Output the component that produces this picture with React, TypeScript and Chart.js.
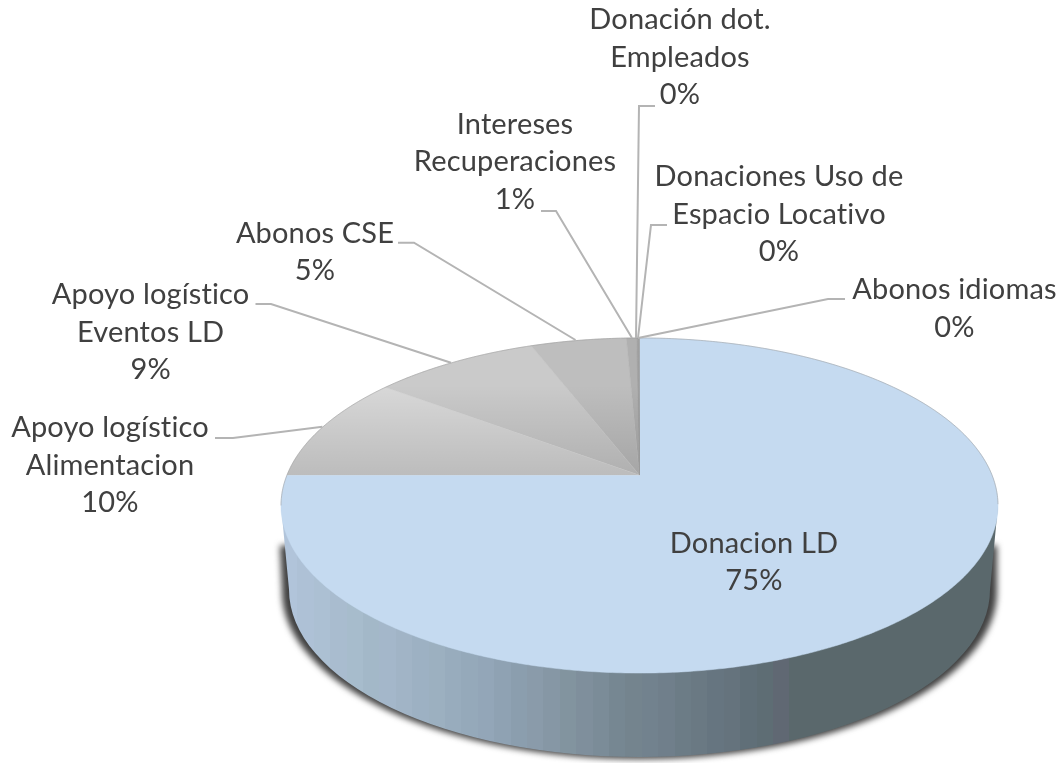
import React, { useEffect, useRef } from "react";
import Chart from "chart.js/auto";

// ---------- data ----------
const categories = [
  "Donacion LD",
  "Apoyo logístico Alimentacion",
  "Apoyo logístico Eventos LD",
  "Abonos CSE",
  "Intereses Recuperaciones",
  "Donación dot. Empleados",
  "Donaciones Uso de Espacio Locativo",
  "Abonos idiomas",
];
const shares = [75, 10.25, 8.9, 5.15, 0.55, 0.05, 0.05, 0.05];
const sliceColours = ["#c5daf0", "#d8d8d8", "#cacaca", "#bebebe", "#b0b0b0", "#a0a0a0", "#9c9c9c", "#989898"];
const labelLines = [
  ["Donacion LD"],
  ["Apoyo logístico", "Alimentacion"],
  ["Apoyo logístico", "Eventos LD"],
  ["Abonos CSE"],
  ["Intereses", "Recuperaciones"],
  ["Donación dot.", "Empleados"],
  ["Donaciones Uso de", "Espacio Locativo"],
  ["Abonos idiomas"],
];
const wallBands = [
  "#b1c4da", "#aec1d6", "#acc0d3", "#a9bccf", "#a7bccc", "#a3b8c8", "#a4b7ca", "#a1b4c6",
  "#9db1c3", "#9cb0c0", "#98acbd", "#95a9ba", "#93a6b8", "#8fa2b3", "#8b9eae", "#8a9baa",
  "#8697a5", "#82949f", "#7f8f9c", "#7b8c98", "#768792", "#74848e", "#72828e", "#707f8b",
  "#6c7c86", "#6a7983", "#667580", "#65737d", "#606f78", "#5e6d74", "#606873", "#5a686c",
];

// ---------- layout ----------
const W = 1061, H = 763;
const CX = 639.5, CY = 475;
const RX = 352.5, RY = 162, K = 0.182;
const TOP_CY = CY + (RY * K) / (1 - K * K);
const TOP_RY = RY / (1 - K * K);
const TOP_RX = RX / Math.sqrt(1 - K * K);
const DEPTH = 84;
const FONT = "29px Lato";
const LINE = 37.5;
// centre x, first baseline, leader polyline for each category
const labelLayout: { x: number; y: number; leader?: number[][] }[] = [
  { x: 754, y: 552.7 },
  { x: 110, y: 437, leader: [[215, 438], [233, 438], [322.4, 426.7]] },
  { x: 150.6, y: 304, leader: [[255.5, 304], [271, 304], [451, 362.7]] },
  { x: 315, y: 242.7, leader: [[398, 242.7], [414, 242.7], [575.5, 340]] },
  { x: 515, y: 133.5, leader: [[541, 211], [556, 211], [632, 338]] },
  { x: 680, y: 29, leader: [[655, 106], [639, 106], [636, 338]] },
  { x: 779, y: 186, leader: [[667, 225], [651, 225], [638, 338]] },
  { x: 954.5, y: 299, leader: [[845, 299], [828, 299], [638, 338]] },
];

function project(a: number): [number, number] {
  const u = Math.cos(a), v = Math.sin(a), w = 1 - K * v;
  return [CX + (RX * u) / w, CY + (RY * v) / w];
}

const pie3d = {
  id: "pie3d",
  beforeDatasetsDraw(chart: any) {
    const ctx: CanvasRenderingContext2D = chart.ctx;
    const arcs = chart.getDatasetMeta(0).data;
    const colours = chart.data.datasets[0].backgroundColor;
    ctx.save();

    // cast shadow
    ctx.save();
    ctx.filter = "blur(3px)";
    ctx.fillStyle = "#404040";
    ctx.beginPath();
    ctx.moveTo(CX - TOP_RX - 1, TOP_CY + 40);
    ctx.lineTo(CX - TOP_RX + 1, TOP_CY + DEPTH);
    ctx.ellipse(CX, TOP_CY + DEPTH + 2, TOP_RX - 1, TOP_RY, 0, Math.PI, 0, true);
    ctx.lineTo(CX + TOP_RX - 1, TOP_CY + 40);
    ctx.closePath();
    ctx.fill();
    ctx.restore();

    // side wall of the large slice, faceted
    const bx = TOP_RX - 8;
    const grad = ctx.createLinearGradient(281, 0, 281 + wallBands.length * 16.4, 0);
    wallBands.forEach((c, i) => {
      grad.addColorStop(i / wallBands.length, c);
      grad.addColorStop((i + 1) / wallBands.length, c);
    });
    ctx.fillStyle = grad;
    ctx.beginPath();
    ctx.moveTo(CX - TOP_RX, TOP_CY);
    ctx.lineTo(CX - bx, TOP_CY + DEPTH);
    ctx.ellipse(CX, TOP_CY + DEPTH, bx, TOP_RY, 0, Math.PI, 0, true);
    ctx.lineTo(CX + TOP_RX, TOP_CY);
    ctx.closePath();
    ctx.fill();

    // top faces, from the angles the library computed
    arcs.forEach((arc: any, i: number) => {
      const { startAngle, endAngle } = arc;
      const path = new Path2D();
      path.moveTo(CX, CY);
      const n = Math.max(2, Math.ceil((endAngle - startAngle) / 0.01));
      for (let s = 0; s <= n; s++) {
        const [x, y] = project(startAngle + ((endAngle - startAngle) * s) / n);
        path.lineTo(x, y);
      }
      path.closePath();
      ctx.fillStyle = colours[i];
      ctx.fill(path);
      ctx.strokeStyle = colours[i];
      ctx.lineWidth = 0.5;
      ctx.stroke(path);
      if (i > 0) {
        const shade = ctx.createLinearGradient(0, 385, 0, 475);
        shade.addColorStop(0, "rgba(0,0,0,0)");
        shade.addColorStop(1, "rgba(0,0,0,0.13)");
        ctx.fillStyle = shade;
        ctx.fill(path);
      }
    });

    // thin rim on the far edge
    ctx.strokeStyle = "rgba(150,150,150,0.5)";
    ctx.lineWidth = 1;
    ctx.beginPath();
    const a0 = Math.PI - Math.asin(K), a1 = 2 * Math.PI + Math.asin(K);
    for (let a = a0; a <= a1; a += 0.01) {
      const [x, y] = project(a);
      if (a === a0) ctx.moveTo(x, y);
      else ctx.lineTo(x, y);
    }
    ctx.stroke();

    // leaders and labels
    ctx.font = FONT;
    (ctx as any).letterSpacing = "0.15px";
    ctx.textAlign = "center";
    ctx.textBaseline = "alphabetic";
    const values = chart.data.datasets[0].data;
    labelLayout.forEach((l, i) => {
      if (l.leader) {
        ctx.strokeStyle = "#b4b4b4";
        ctx.lineWidth = 2;
        ctx.beginPath();
        l.leader.forEach(([x, y], j) => (j ? ctx.lineTo(x, y) : ctx.moveTo(x, y)));
        ctx.stroke();
      }
      ctx.fillStyle = "#404040";
      const lines = [...labelLines[i], Math.round(values[i]) + "%"];
      lines.forEach((t, j) => ctx.fillText(t, l.x, l.y + j * LINE));
    });
    ctx.restore();
    return false;
  },
};

export default function App() {
  const ref = useRef<HTMLCanvasElement>(null);
  useEffect(() => {
    const chart = new Chart(ref.current!, {
      type: "pie",
      data: {
        labels: categories,
        datasets: [{ data: shares, backgroundColor: sliceColours, borderWidth: 0 }],
      },
      options: {
        animation: false,
        responsive: false,
        plugins: { legend: { display: false }, tooltip: { enabled: false } },
      },
      plugins: [pie3d],
    } as any);
    return () => chart.destroy();
  }, []);
  return (
    <canvas
      ref={ref}
      width={W}
      height={H}
      style={{ position: "absolute", left: 0, top: 0, display: "block", background: "#fff" }}
    />
  );
}
